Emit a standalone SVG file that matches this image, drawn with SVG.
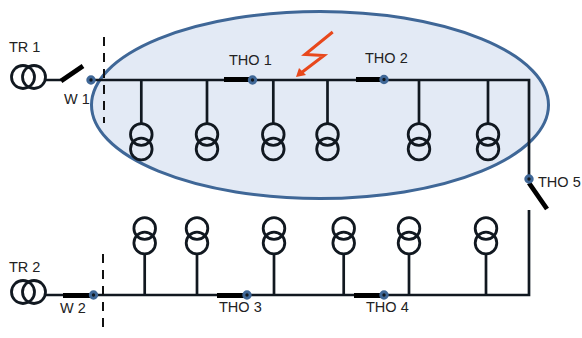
<svg xmlns="http://www.w3.org/2000/svg" width="582" height="338" viewBox="0 0 582 338">
<style>
text{font-family:"Liberation Sans",Arial,sans-serif;font-size:14.5px;fill:#222}
.w{fill:none;stroke:#111820;stroke-width:2.7}
.c{fill:none;stroke:#111820;stroke-width:2.8}
.t{stroke:#000;stroke-width:4.8;fill:none}
.d{fill:#111820;stroke:#3f6797;stroke-width:3}
.dash{stroke:#111;stroke-width:2;stroke-dasharray:9 7;fill:none}
</style>
<defs>
<g id="xf"><circle class="c" cx="0" cy="0" r="10.8"/><circle class="c" cx="0" cy="14.5" r="10.8"/></g>
<g id="tr"><circle class="c" cx="0" cy="0" r="11.5"/><circle class="c" cx="11" cy="0" r="11.5"/></g>
</defs>
<ellipse id="zone" cx="320" cy="105" rx="228.500" ry="93.500" fill="#e3eaf5" stroke="#3f6797" stroke-width="3"/>
<g id="connectors">
<path class="w" d="M91 80H529V178M529 210V295H46M45 80H61"/>
<path class="w" d="M141.300 80V123M207 80V123M273.300 80V123M327.500 80V123M419 80V123M488 80V123"/>
<path class="w" d="M144.700 295V254M197 295V254M274 295V254M343.700 295V254M409 295V254M486 295V254"/>
<path class="t" d="M61 81L83 66M224 79.500H252M356 79.500H384M63 295.500H91M217 295.500H247M354 295.500H384M529 183L547 209"/>
<path class="dash" d="M104 37V123M103 254V332"/>
<path d="M332.700 32L305 54.500L324 55.500L301 73" fill="none" stroke="#e8481c" stroke-width="3"/>
<path d="M296 77L299 68L306 75Z" fill="#e8481c"/>
</g>
<g id="tr1"><use href="#tr" x="23" y="77"/><text x="9" y="52">TR 1</text></g>
<g id="tr2"><use href="#tr" x="23" y="292"/><text x="9" y="272">TR 2</text></g>
<g id="w1"><circle class="d" cx="91" cy="80" r="3.200"/><text x="64" y="104">W 1</text></g>
<g id="w2"><circle class="d" cx="93.500" cy="295" r="3.200"/><text x="60" y="313">W 2</text></g>
<g id="tho1"><circle class="d" cx="252.500" cy="80" r="3.200"/><text x="229" y="64.500">THO 1</text></g>
<g id="tho2"><circle class="d" cx="384" cy="79.500" r="3.200"/><text x="365" y="63">THO 2</text></g>
<g id="tho3"><circle class="d" cx="247" cy="295" r="3.200"/><text x="219" y="312">THO 3</text></g>
<g id="tho4"><circle class="d" cx="384" cy="295" r="3.200"/><text x="366" y="312">THO 4</text></g>
<g id="tho5"><circle class="d" cx="529" cy="179" r="3.200"/><text x="538" y="187">THO 5</text></g>
<g id="loads-top">
<use href="#xf" x="141.300" y="134.500"/><use href="#xf" x="207" y="134.500"/><use href="#xf" x="273.300" y="134.500"/><use href="#xf" x="327.500" y="134.500"/><use href="#xf" x="419" y="134.500"/><use href="#xf" x="488" y="134.500"/>
</g>
<g id="loads-bottom">
<use href="#xf" x="144.700" y="228.500"/><use href="#xf" x="197" y="228.500"/><use href="#xf" x="274" y="228.500"/><use href="#xf" x="343.700" y="228.500"/><use href="#xf" x="409" y="228.500"/><use href="#xf" x="486" y="228.500"/>
</g>
</svg>
